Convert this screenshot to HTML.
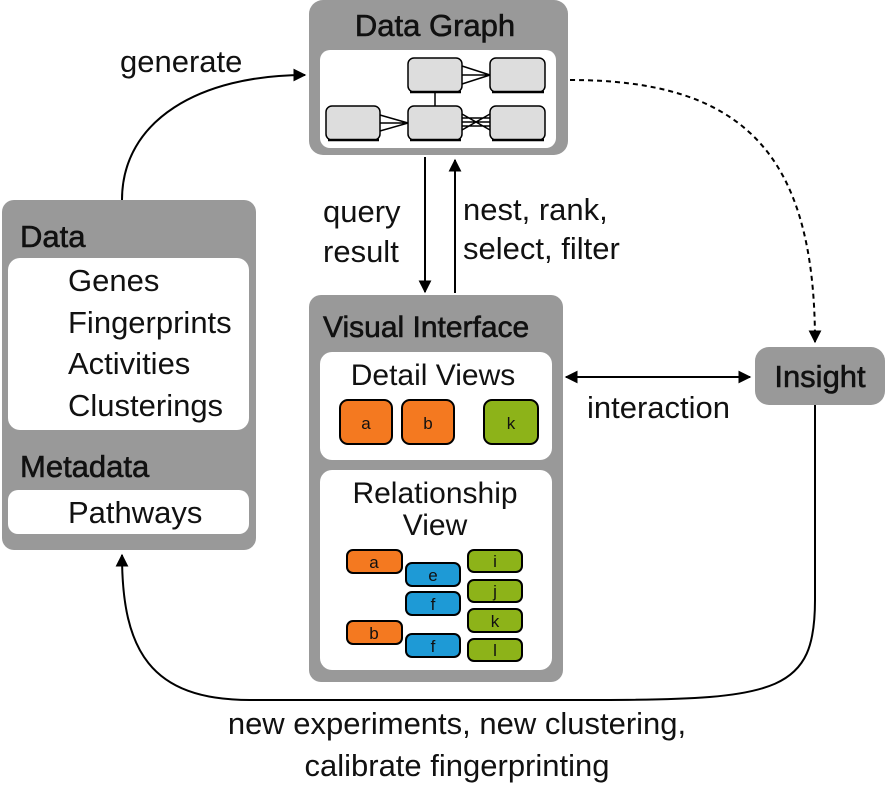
<!DOCTYPE html>
<html><head><meta charset="utf-8"><style>
body{margin:0;background:#fff;width:890px;height:790px;overflow:hidden}
text{font-family:"Liberation Sans",Arial,sans-serif;fill:#111}
.t{stroke:#111;stroke-width:0.6}
</style></head><body>
<svg width="890" height="790" viewBox="0 0 890 790" xmlns="http://www.w3.org/2000/svg">
<defs>
<marker id="ah" viewBox="0 0 10 10" refX="9" refY="5" markerWidth="13" markerHeight="13" markerUnits="userSpaceOnUse" orient="auto"><path d="M0,0 L10,5 L0,10 z" fill="#000"/></marker>
<marker id="as" viewBox="0 0 10 10" refX="1" refY="5" markerWidth="13" markerHeight="13" markerUnits="userSpaceOnUse" orient="auto"><path d="M10,0 L0,5 L10,10 z" fill="#000"/></marker>
</defs>
<path d="M122,200 C122,120 200,75 305,75" fill="none" stroke="#000" stroke-width="2" marker-end="url(#ah)"/>
<text x="120" y="72" font-size="31">generate</text>
<path d="M570,80 C740,80 815,150 815,342" fill="none" stroke="#000" stroke-width="2" stroke-dasharray="5,4" marker-end="url(#ah)"/>
<line x1="425" y1="157" x2="425" y2="292" stroke="#000" stroke-width="2" marker-end="url(#ah)"/>
<line x1="455" y1="293" x2="455" y2="160" stroke="#000" stroke-width="2" marker-end="url(#ah)"/>
<text x="323" y="222" font-size="31">query</text>
<text x="323" y="262" font-size="31">result</text>
<text x="463" y="220" font-size="31">nest, rank,</text>
<text x="463" y="259" font-size="31">select, filter</text>
<line x1="566" y1="377" x2="750" y2="377" stroke="#000" stroke-width="2" marker-start="url(#as)" marker-end="url(#ah)"/>
<text x="587" y="418" font-size="31">interaction</text>
<path d="M815,405 L815,600 C815,690 780,700 600,700 L250,700 C150,700 122,650 122,555" fill="none" stroke="#000" stroke-width="2" marker-end="url(#ah)"/>
<text x="457" y="734" font-size="31" text-anchor="middle">new experiments, new clustering,</text>
<text x="457" y="776" font-size="31" text-anchor="middle">calibrate fingerprinting</text>
<rect x="309" y="0" width="259" height="155" rx="14" fill="#999"/>
<text x="435" y="36" font-size="31" class="t" text-anchor="middle">Data Graph</text>
<rect x="320" y="50" width="236" height="98" rx="10" fill="#fff"/>
<g stroke="#000" stroke-width="1.5" fill="none">
<path d="M462,66 L490,75 M462,75 L490,75 M462,84 L490,75"/>
<path d="M380,115 L408,123 M380,123 L408,123 M380,131 L408,123"/>
<path d="M462,114 L490,130 M462,130 L490,114 M462,118 L490,118 M462,126 L490,126 M462,122 L490,122"/>
<line x1="435" y1="92" x2="435" y2="106"/>
</g>
<g fill="#ddd" stroke="#000" stroke-width="1.5">
<rect x="408" y="58" width="54" height="34" rx="6"/>
<rect x="490" y="58" width="55" height="34" rx="6"/>
<rect x="326" y="106" width="54" height="34" rx="6"/>
<rect x="408" y="106" width="54" height="34" rx="6"/>
<rect x="490" y="106" width="55" height="34" rx="6"/>
</g>
<g stroke="#000" stroke-width="2.5"><line x1="410" y1="92" x2="461" y2="92"/><line x1="492" y1="92" x2="544" y2="92"/><line x1="328" y1="140" x2="379" y2="140"/><line x1="410" y1="140" x2="461" y2="140"/><line x1="492" y1="140" x2="544" y2="140"/></g>
<rect x="2" y="200" width="254" height="350" rx="12" fill="#999"/>
<text x="20" y="247" font-size="31" class="t">Data</text>
<rect x="8" y="258" width="241" height="172" rx="12" fill="#fff"/>
<text x="68" y="291" font-size="31">Genes</text>
<text x="68" y="333" font-size="31">Fingerprints</text>
<text x="68" y="374" font-size="31">Activities</text>
<text x="68" y="416" font-size="31">Clusterings</text>
<text x="20" y="477" font-size="31" class="t">Metadata</text>
<rect x="8" y="490" width="241" height="44" rx="10" fill="#fff"/>
<text x="68" y="523" font-size="31">Pathways</text>
<rect x="309" y="295" width="254" height="387" rx="12" fill="#999"/>
<text x="323" y="337" font-size="30" class="t">Visual Interface</text>
<rect x="320" y="352" width="232" height="108" rx="12" fill="#fff"/>
<text x="433" y="385" font-size="30" text-anchor="middle">Detail Views</text>
<g stroke="#000" stroke-width="2">
<rect x="340" y="400" width="52" height="44" rx="8" fill="#f47920"/>
<rect x="402" y="400" width="52" height="44" rx="8" fill="#f47920"/>
<rect x="484" y="400" width="54" height="44" rx="8" fill="#8db319"/>
</g>
<text x="366" y="429" font-size="17" text-anchor="middle">a</text>
<text x="428" y="429" font-size="17" text-anchor="middle">b</text>
<text x="511" y="429" font-size="17" text-anchor="middle">k</text>
<rect x="320" y="470" width="232" height="200" rx="12" fill="#fff"/>
<text x="435" y="503" font-size="30" text-anchor="middle">Relationship</text>
<text x="435" y="535" font-size="30" text-anchor="middle">View</text>
<g stroke="#000" stroke-width="2">
<rect x="347" y="550" width="55" height="23" rx="6" fill="#f47920"/>
<rect x="347" y="621" width="55" height="23" rx="6" fill="#f47920"/>
<rect x="406" y="563" width="54" height="23" rx="6" fill="#1e9ad6"/>
<rect x="406" y="592" width="54" height="23" rx="6" fill="#1e9ad6"/>
<rect x="406" y="634" width="54" height="23" rx="6" fill="#1e9ad6"/>
<rect x="468" y="550" width="54" height="22" rx="6" fill="#8db319"/>
<rect x="468" y="580" width="54" height="22" rx="6" fill="#8db319"/>
<rect x="468" y="609" width="54" height="23" rx="6" fill="#8db319"/>
<rect x="468" y="639" width="54" height="22" rx="6" fill="#8db319"/>
</g>
<g font-size="17" text-anchor="middle">
<text x="374" y="568">a</text><text x="374" y="639">b</text>
<text x="433" y="581">e</text><text x="433" y="610">f</text><text x="433" y="652">f</text>
<text x="495" y="567">i</text><text x="495" y="597">j</text><text x="495" y="627">k</text><text x="495" y="656">l</text>
</g>
<rect x="755" y="347" width="130" height="58" rx="14" fill="#999"/>
<text x="820" y="387" font-size="31" class="t" text-anchor="middle">Insight</text>
</svg>
</body></html>
